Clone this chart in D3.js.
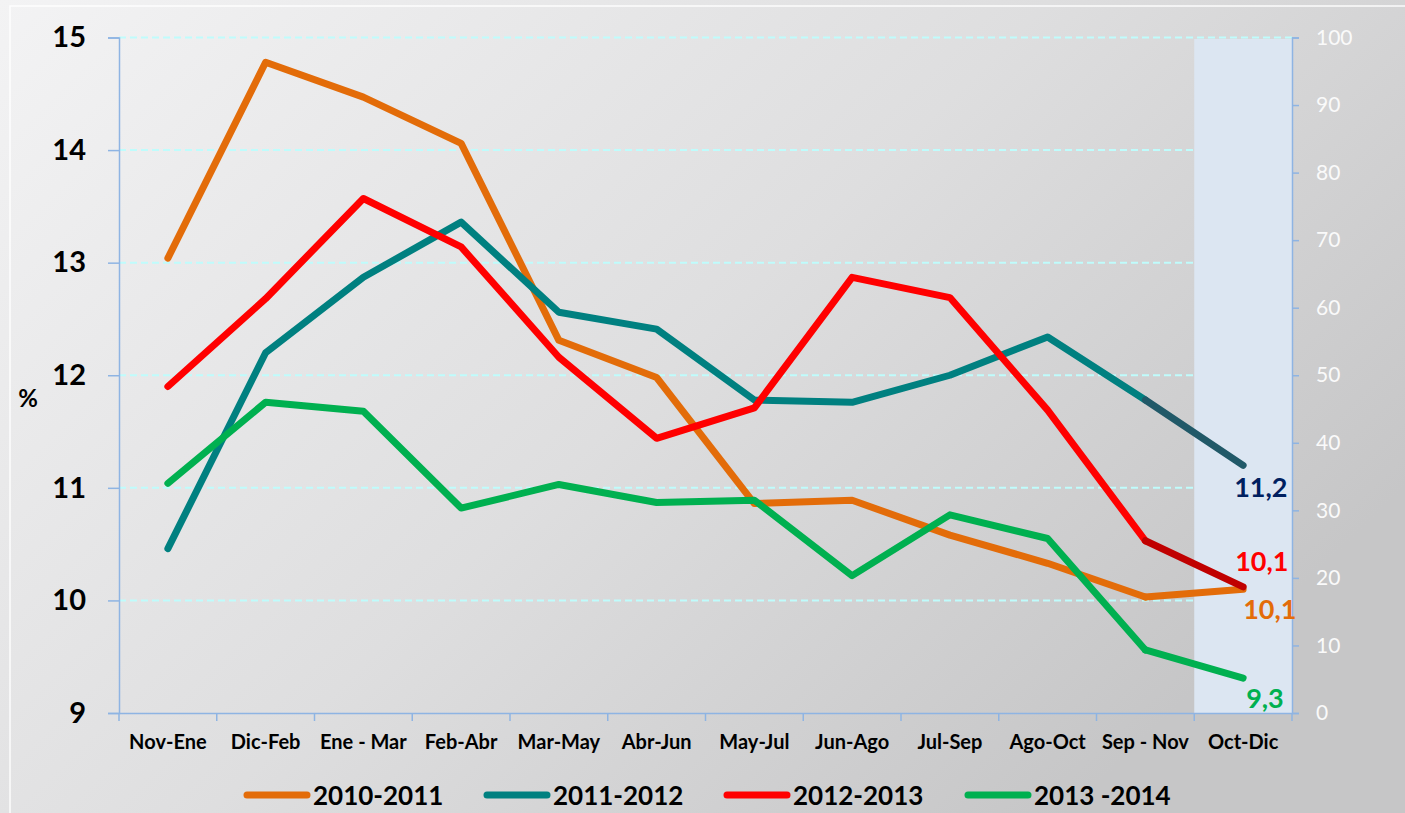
<!DOCTYPE html>
<html>
<head>
<meta charset="utf-8">
<script src="https://cdn.jsdelivr.net/npm/d3@7"></script>
<style>
  body { margin: 0; background: #e6e6e6; }
  svg { display: block; font-family: Lato, "Open Sans", sans-serif; }
</style>
</head>
<body>
<div id="chart"></div>
<script>
// categories (x axis)
const categories = ["Nov-Ene", "Dic-Feb", "Ene - Mar", "Feb-Abr", "Mar-May", "Abr-Jun",
  "May-Jul", "Jun-Ago", "Jul-Sep", "Ago-Oct", "Sep - Nov", "Oct-Dic"];

// series values
const s2010 = [13.04, 14.78, 14.47, 14.06, 12.31, 11.98, 10.86, 10.89, 10.58, 10.33, 10.03, 10.1];
const s2011 = [10.46, 12.20, 12.87, 13.36, 12.56, 12.41, 11.78, 11.76, 12.0, 12.34, 11.78, 11.2];
const s2012 = [11.9, 12.68, 13.57, 13.14, 12.16, 11.44, 11.71, 12.87, 12.69, 11.69, 10.53, 10.12];
const s2013 = [11.04, 11.76, 11.68, 10.82, 11.03, 10.87, 10.89, 10.22, 10.76, 10.55, 9.56, 9.31];

const seriesNames = ["2010-2011", "2011-2012", "2012-2013", "2013 -2014"];
const endLabels = ["10,1", "11,2", "10,1", "9,3"];

const leftTicks = [9, 10, 11, 12, 13, 14, 15];
const rightTicks = [0, 10, 20, 30, 40, 50, 60, 70, 80, 90, 100];

const W = 1405, H = 813;
const margin = {top: 37.5, right: 113, bottom: 100, left: 119};
const width = W - margin.left - margin.right;
const height = H - margin.top - margin.bottom;
const FONT = "Lato, 'Open Sans', sans-serif";

const series = [
  {name: seriesNames[0], values: s2010, color: "#E36C09", last: "#E36C09", label: endLabels[0], labelColor: "#E36C09", dx: 0, dy: 30},
  {name: seriesNames[1], values: s2011, color: "#008080", last: "#215968", label: endLabels[1], labelColor: "#002060", dx: -9, dy: 32},
  {name: seriesNames[2], values: s2012, color: "#FF0000", last: "#C00000", label: endLabels[2], labelColor: "#FF0000", dx: -8, dy: -16},
  {name: seriesNames[3], values: s2013, color: "#00B050", last: "#00B050", label: endLabels[3], labelColor: "#00B050", dx: 3, dy: 30}
];

const svg = d3.select("#chart").append("svg")
  .attr("width", W).attr("height", H);

// background
const defs = svg.append("defs");
const grad = defs.append("linearGradient").attr("id", "bg")
  .attr("x1", "0%").attr("y1", "0%").attr("x2", "100%").attr("y2", "60%");
grad.append("stop").attr("offset", "0%").attr("stop-color", "#f3f3f4");
grad.append("stop").attr("offset", "55%").attr("stop-color", "#dededf");
grad.append("stop").attr("offset", "100%").attr("stop-color", "#c6c6c7");
svg.append("rect").attr("width", W).attr("height", H).attr("fill", "url(#bg)");
svg.append("rect").attr("x", 10).attr("y", 6).attr("width", W).attr("height", H)
  .attr("fill", "none").attr("stroke", "#ffffff").attr("stroke-width", 1.5).attr("opacity", 0.9);

const g = svg.append("g").attr("transform", `translate(${margin.left},${margin.top})`);

const x = d3.scaleBand().domain(categories).range([0, width]);
const y = d3.scaleLinear().domain([9, 15]).range([height, 0]);
const y2 = d3.scaleLinear().domain([0, 100]).range([height, 0]);

// gridlines
g.append("g").selectAll("line")
  .data(leftTicks.filter(d => d > 9))
  .enter().append("line")
  .attr("x1", 0).attr("x2", width)
  .attr("y1", d => y(d)).attr("y2", d => y(d))
  .attr("stroke", "#bffcfc").attr("stroke-width", 2)
  .attr("stroke-dasharray", "7,4");

// shaded last period
const lastCat = categories[categories.length - 1];
g.append("rect")
  .attr("x", x(lastCat)).attr("y", y(15) + 1.5)
  .attr("width", x.bandwidth()).attr("height", height - 1.5)
  .attr("fill", "#dce6f2");

// left axis
const axisColor = "#8eb4e3";
const yAxis = g.append("g")
  .call(d3.axisLeft(y).tickValues(leftTicks).tickFormat(d3.format("d")).tickSize(11).tickPadding(22));
yAxis.attr("font-family", FONT);
yAxis.select(".domain").attr("stroke", axisColor).attr("stroke-width", 1.5);
yAxis.selectAll(".tick line").attr("stroke", axisColor).attr("stroke-width", 1.5);
yAxis.selectAll(".tick text").attr("font-size", 29).attr("font-weight", "bold").attr("fill", "#000");

// right axis
const y2Axis = g.append("g").attr("transform", `translate(${width},0)`)
  .call(d3.axisRight(y2).tickValues(rightTicks).tickFormat(d3.format("d")).tickSize(7).tickPadding(17));
y2Axis.attr("font-family", FONT);
y2Axis.select(".domain").attr("stroke", axisColor).attr("stroke-width", 1.5);
y2Axis.selectAll(".tick line").attr("stroke", axisColor).attr("stroke-width", 1.5);
y2Axis.selectAll(".tick text").attr("font-size", 21).attr("fill", "#fafafa");

// x axis with ticks between categories
const xAxis = g.append("g").attr("transform", `translate(0,${height})`)
  .call(d3.axisBottom(x).tickSize(0).tickPadding(22));
xAxis.attr("font-family", FONT);
xAxis.select(".domain").attr("stroke", axisColor).attr("stroke-width", 1.5);
xAxis.selectAll(".tick text").attr("font-size", 20).attr("font-weight", "bold").attr("fill", "#000");
g.append("g").selectAll("line")
  .data(categories.concat(["end"]))
  .enter().append("line")
  .attr("x1", (d, i) => i * x.bandwidth()).attr("x2", (d, i) => i * x.bandwidth())
  .attr("y1", height).attr("y2", height + 8)
  .attr("stroke", axisColor).attr("stroke-width", 1.5);

// % label
svg.append("text").attr("x", 28).attr("y", 407).attr("text-anchor", "middle")
  .attr("font-size", 24).attr("font-weight", "bold").text("%");

// lines
const line = d3.line()
  .x((d, i) => x(categories[i]) + x.bandwidth() / 2)
  .y(d => y(d));
const n = categories.length;

series.forEach(s => {
  g.append("path")
    .datum(s.values.slice(0, n - 1))
    .attr("d", line)
    .attr("fill", "none").attr("stroke", s.color).attr("stroke-width", 7)
    .attr("stroke-linecap", "round").attr("stroke-linejoin", "round");
  const cx0 = x(categories[n - 2]) + x.bandwidth() / 2;
  const cx1 = x(categories[n - 1]) + x.bandwidth() / 2;
  g.append("line")
    .attr("x1", cx0).attr("y1", y(s.values[n - 2]))
    .attr("x2", cx1).attr("y2", y(s.values[n - 1]))
    .attr("stroke", s.last).attr("stroke-width", 7).attr("stroke-linecap", "round");
});

// end labels
series.forEach(s => {
  g.append("text")
    .attr("x", x(lastCat) + x.bandwidth() / 2 + s.dx)
    .attr("y", y(s.values[n - 1]) + s.dy)
    .attr("font-size", 27).attr("font-weight", "bold")
    .attr("fill", s.labelColor).text(s.label);
});

// legend
const legendX = [247, 487, 727, 968];
const legend = svg.append("g");
series.forEach((s, i) => {
  legend.append("line")
    .attr("x1", legendX[i]).attr("x2", legendX[i] + 60)
    .attr("y1", 795).attr("y2", 795)
    .attr("stroke", s.color).attr("stroke-width", 7).attr("stroke-linecap", "round");
  legend.append("text")
    .attr("x", legendX[i] + 66).attr("y", 805)
    .attr("font-size", 26).attr("font-weight", "bold").attr("fill", "#000")
    .text(s.name);
});
</script>
</body>
</html>
